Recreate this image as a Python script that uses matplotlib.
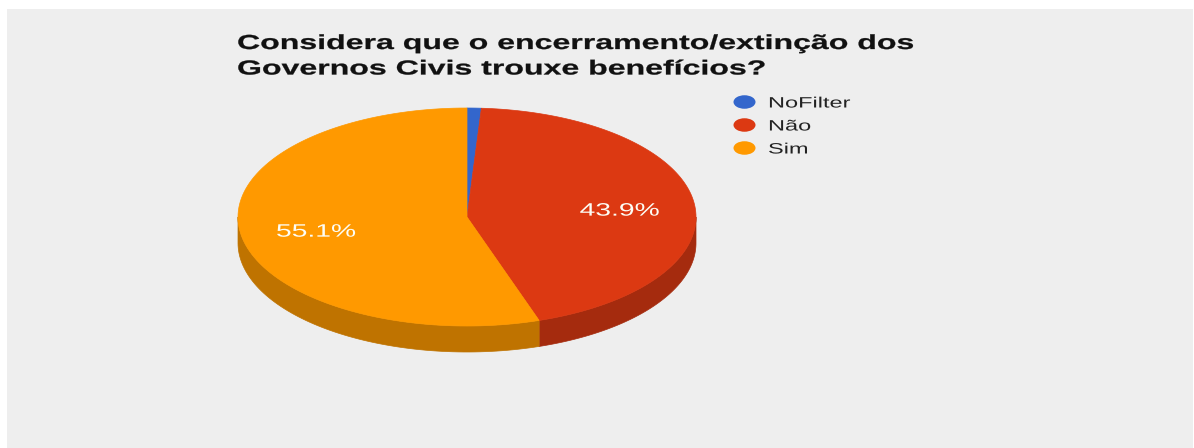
import numpy as np
import matplotlib
matplotlib.use('Agg')
import matplotlib.pyplot as plt
from matplotlib.patches import Polygon, Rectangle, Ellipse, PathPatch
from matplotlib.textpath import TextPath
from matplotlib.font_manager import FontProperties
from matplotlib.transforms import Affine2D

# data
labels = ['NoFilter', 'Não', 'Sim']
shares = [1.0, 43.9, 55.1]
colors = ['#3366cc', '#dc3912', '#ff9900']
side_colors = ['#264d99', '#a52b0e', '#bf7300']
title_lines = ['Considera que o encerramento/extinção dos',
               'Governos Civis trouxe benefícios?']

W, H = 1194, 448
SX = 1.57  # the screenshot is stretched sideways

fig = plt.figure(figsize=(W / 100, H / 100), dpi=100)
fig.patch.set_facecolor('white')
ax = fig.add_axes([0, 0, 1, 1])
ax.set_xlim(0, W)
ax.set_ylim(H, 0)
ax.axis('off')

ax.add_patch(Rectangle((7, 9), 1186, 440, facecolor='#eeeeee', edgecolor='none'))


def stretched_text(x, y, s, px, color, weight='normal', ha='left', sx=SX):
    # y is the baseline in pixel coords
    fp = FontProperties(family='Liberation Sans', weight=weight)
    tp = TextPath((0, 0), s, size=px, prop=fp)
    ext = tp.get_extents()
    w = ext.x1 * sx
    dx = {'left': 0, 'center': -w / 2, 'right': -w}[ha]
    tr = Affine2D().scale(sx, -1).translate(x + dx, y) + ax.transData
    ax.add_patch(PathPatch(tp, transform=tr, facecolor=color, edgecolor=color,
                           lw=0.2 if weight == 'bold' else 0))


# pie geometry (pixels)
cx, cy, a, b, depth = 467, 217, 229, 109, 26


def pt(theta, dy=0):
    t = np.radians(theta)
    return cx + a * np.sin(t), cy - b * np.cos(t) + dy


total = sum(shares)
bounds = np.concatenate([[0], np.cumsum(shares) / total * 360])

# side walls (front half only)
for i in range(len(shares)):
    t0, t1 = max(bounds[i], 90), min(bounds[i + 1], 270)
    if t1 <= t0:
        continue
    ts = np.linspace(t0, t1, 80)
    top = [pt(t) for t in ts]
    bot = [pt(t, depth) for t in ts[::-1]]
    ax.add_patch(Polygon(top + bot, closed=True, facecolor=side_colors[i],
                         edgecolor=side_colors[i], lw=0.5))

# top faces
for i in range(len(shares)):
    ts = np.linspace(bounds[i], bounds[i + 1], 120)
    verts = [(cx, cy)] + [pt(t) for t in ts]
    ax.add_patch(Polygon(verts, closed=True, facecolor=colors[i],
                         edgecolor=colors[i], lw=0.5))

# percentage labels
for i in range(len(shares)):
    if shares[i] / total < 0.05:
        continue
    mid = (bounds[i] + bounds[i + 1]) / 2
    t = np.radians(mid)
    x = cx + a * 0.67 * np.sin(t)
    y = cy - b * 0.67 * np.cos(t)
    stretched_text(x, y + 8, f'{shares[i] / total * 100:.1f}%', 18, '#fdfdf5',
                   ha='center')

# title
for k, line in enumerate(title_lines):
    stretched_text(237, 49 + k * 25.5, line, 20.3, '#111111', weight='bold', sx=1.58)

# legend
for i, lab in enumerate(labels):
    ly = 102 + i * 23
    ax.add_patch(Ellipse((744.5, ly), 22, 13.5, facecolor=colors[i], edgecolor='none'))
    stretched_text(768, ly + 5.5, lab, 15, '#222222')

fig.savefig('out.png', dpi=100, facecolor=fig.get_facecolor())
